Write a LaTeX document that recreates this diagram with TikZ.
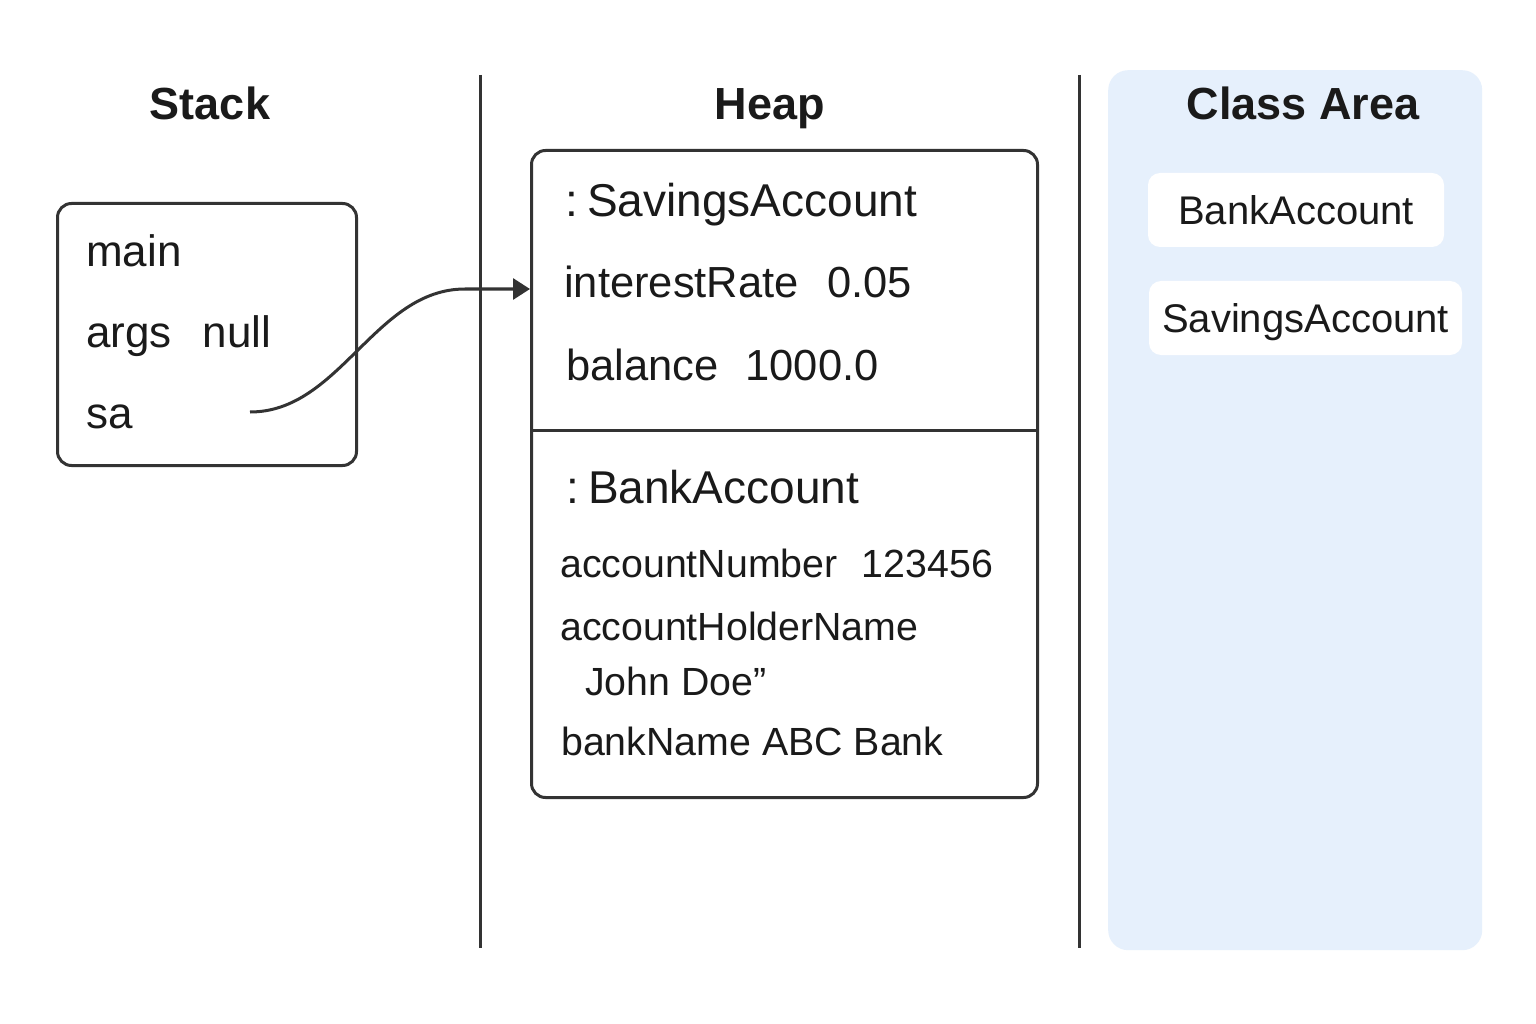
\documentclass[tikz,border=0pt]{standalone}
\usepackage{fontspec}
\setmainfont{Liberation Sans}
\usetikzlibrary{arrows.meta}
\definecolor{ink}{HTML}{1A1A1A}
\definecolor{linec}{HTML}{333333}
\definecolor{classbg}{HTML}{E6F0FC}
\begin{document}
\begin{tikzpicture}[x=1pt,y=-1pt,
  title/.style={font=\fontsize{45}{54}\selectfont\bfseries, text=ink, inner sep=0pt, anchor=base},
  stackfld/.style={font=\fontsize{44}{52}\selectfont, text=ink, inner sep=0pt, anchor=base west},
  savfld/.style={font=\fontsize{43.5}{52}\selectfont, text=ink, inner sep=0pt, anchor=base west},
  hdr/.style={font=\fontsize{46}{55}\selectfont, text=ink, inner sep=0pt, anchor=base west},
  bankfld/.style={font=\fontsize{39.3}{47}\selectfont, text=ink, inner sep=0pt, anchor=base west},
  framebox/.style={draw=linec, line width=3pt, rounded corners=14pt, fill=white, inner sep=0pt, anchor=north west},
  divline/.style={draw=linec, line width=3pt},
  classbox/.style={fill=white, rounded corners=12pt, inner sep=0pt, font=\fontsize{40}{48}\selectfont, text=ink, text height=29pt, text depth=0pt},
  refarrow/.style={draw=linec, line width=3pt, -{Triangle[length=17pt,width=21pt]}}
]
\useasboundingbox[fill=white] (0,0) rectangle (1536,1024);

% columns
\coordinate (d1top) at (480,75);
\coordinate (d1bot) at (480,948);
\coordinate (d2top) at (1079,75);
\coordinate (d2bot) at (1079,948);
\draw[divline] (d1top) -- (d1bot);
\draw[divline] (d2top) -- (d2bot);

\node[fill=classbg, rounded corners=20pt, minimum width=374pt, minimum height=880pt, inner sep=0pt, anchor=north west] (classarea) at (1108,70) {};

% titles
\node[title] (tstack) at (210,120) {Stack};
\node[title] (theap) at (770,120) {Heap};
\node[title] (tclass) at (1303,120) {Class Area};

% stack frame
\node[framebox, minimum width=299pt, minimum height=262pt] (stackbox) at (56,202) {};
\node[stackfld] (fmain) at (86,267) {main};
\node[stackfld] (fargs) at (86,347) {args\hspace{0.7em}null};
\node[stackfld] (fsa) at (86,428) {sa};

% heap object
\node[framebox, minimum width=506pt, minimum height=647pt] (heapbox) at (530,149) {};
\draw[divline] (heapbox.west |- 0,430) -- (heapbox.east |- 0,430);
\node[hdr] (hsav) at (565,217) {:\hspace{0.2em}SavingsAccount};
\node[savfld] (fir) at (564,298) {interestRate\hspace{0.66em}0.05};
\node[savfld] (fbal) at (566,380) {balance\hspace{0.62em}1000.0};
\node[hdr] (hbank) at (566,503) {:\hspace{0.2em}BankAccount};
\node[bankfld] (fnum) at (560,577) {accountNumber\hspace{0.62em}123456};
\node[bankfld] (fholder) at (560,640) {accountHolderName};
\node[bankfld] (fjohn) at (585,695) {John Doe”};
\node[bankfld] (fbank) at (561,755) {bankName ABC Bank};

% reference arrow
\coordinate (saref) at (250,412);
\coordinate (reftip) at (heapbox.west |- 0,289);
\draw[refarrow] (saref) .. controls (340,412) and (375,289) .. (465,289) -- (reftip);

% class area entries
\node[classbox, minimum width=296pt, minimum height=74pt] (cbank) at (1296,210) {BankAccount};
\node[classbox, minimum width=313pt, minimum height=74pt] (csav) at (1305.5,318) {SavingsAccount};
\end{tikzpicture}
\end{document}
